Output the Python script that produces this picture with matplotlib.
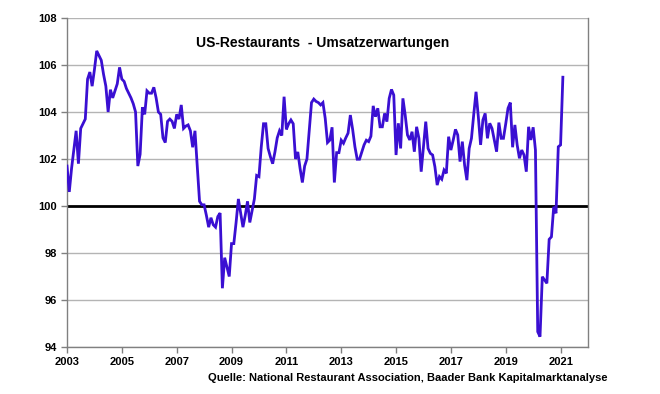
import matplotlib
matplotlib.use("Agg")
import matplotlib.pyplot as plt
import numpy as np

start_year = 2003
values = [
    101.7, 100.6, 101.6, 102.4, 103.2, 101.8, 103.3, 103.5, 103.7, 105.4, 105.7, 105.1,
    105.8, 106.6, 106.4, 106.2, 105.6, 105.1, 104.0, 104.95, 104.6, 104.9, 105.2, 105.9,
    105.4, 105.3, 105.0, 104.8, 104.6, 104.35, 104.0, 101.7, 102.2, 104.2, 103.9, 104.9,
    104.8, 104.8, 105.05, 104.6, 104.0, 103.9, 102.9, 102.7, 103.6, 103.7, 103.6, 103.3,
    103.9, 103.7, 104.3, 103.3, 103.4, 103.45, 103.2, 102.5, 103.2, 101.7, 100.2, 100.05,
    100.05, 99.6, 99.1, 99.5, 99.2, 99.1, 99.55, 99.7, 96.5, 97.8, 97.4, 97.0,
    98.4, 98.4, 99.3, 100.3, 99.7, 99.1, 99.6, 100.2, 99.3, 99.8, 100.3, 101.3,
    101.25, 102.5, 103.5, 103.5, 102.45, 102.1, 101.8, 102.3, 102.9, 103.2, 103.0, 104.65,
    103.26, 103.5, 103.66, 103.5, 102.0, 102.3, 101.6, 101.0, 101.7, 102.0, 103.2, 104.4,
    104.55, 104.45, 104.4, 104.3, 104.4, 103.73, 102.7, 102.8, 103.35, 101.0, 102.27, 102.27,
    102.8, 102.67, 102.9, 103.1, 103.87, 103.26, 102.52, 101.99, 101.99, 102.3, 102.6, 102.8,
    102.74, 102.97, 104.26, 103.8, 104.16, 103.37, 103.37, 103.94, 103.59, 104.58, 104.96, 104.72,
    102.17, 103.52, 102.45, 104.58, 103.87, 103.02, 102.81, 103.16, 102.31, 103.37, 102.88, 101.46,
    102.5, 103.59, 102.45, 102.24, 102.17, 101.67, 100.89, 101.25, 101.14, 101.53, 101.39, 102.95,
    102.38, 102.8, 103.26, 103.02, 101.89, 102.74, 101.74, 101.1, 102.45, 102.88, 103.9, 104.86,
    103.8, 102.6, 103.66, 103.94, 102.88, 103.52, 103.3, 102.8, 102.31, 103.55, 102.88, 102.88,
    103.5, 104.16, 104.4, 102.5, 103.45, 102.6, 102.03, 102.38, 102.17, 101.46, 103.37, 102.81,
    103.35, 102.38, 94.65, 94.44, 96.99, 96.85, 96.71, 98.58, 98.69, 99.97, 99.69, 102.52,
    102.6, 105.48,
]
x_ticks = [2003, 2005, 2007, 2009, 2011, 2013, 2015, 2017, 2019, 2021]
y_ticks = [94, 96, 98, 100, 102, 104, 106, 108]
title = "US-Restaurants  - Umsatzerwartungen"
source = "Quelle: National Restaurant Association, Baader Bank Kapitalmarktanalyse"

dates = start_year + np.arange(len(values)) / 12.0

plt.rcParams['font.family'] = ['Liberation Sans', 'DejaVu Sans']
fig = plt.figure(figsize=(6.6, 3.94), dpi=100)
ax = fig.add_axes([67/660, 1-347/394, (588-67)/660, (347-18)/394])

for yv in y_ticks:
    if yv != 100:
        ax.axhline(yv, color='#b4b4b4', lw=1.0, zorder=1)
ax.axhline(100, color='black', lw=2.0, zorder=2)
ax.plot(dates, values, color='#3a0fd2', lw=2.0, zorder=3, solid_joinstyle='miter')

ax.set_xlim(2003, 2022)
ax.set_ylim(94, 108)
ax.set_xticks(x_ticks)
ax.set_yticks(y_ticks)
ax.tick_params(axis='both', labelsize=8, width=1, length=4, color='#808080', direction='out')
for lbl in ax.get_xticklabels() + ax.get_yticklabels():
    lbl.set_fontweight('bold')
for s in ['left', 'bottom', 'right']:
    ax.spines[s].set_color('#808080')
    ax.spines[s].set_linewidth(1)
ax.spines['top'].set_visible(False)

ax.text(0.49, 0.925, title, transform=ax.transAxes, ha='center', va='center',
        fontsize=10, fontweight='bold')
fig.text(607/660, 1-378/394, source, ha='right', va='center', fontsize=8, fontweight='bold')

fig.savefig('out.png', dpi=100, facecolor='white')
